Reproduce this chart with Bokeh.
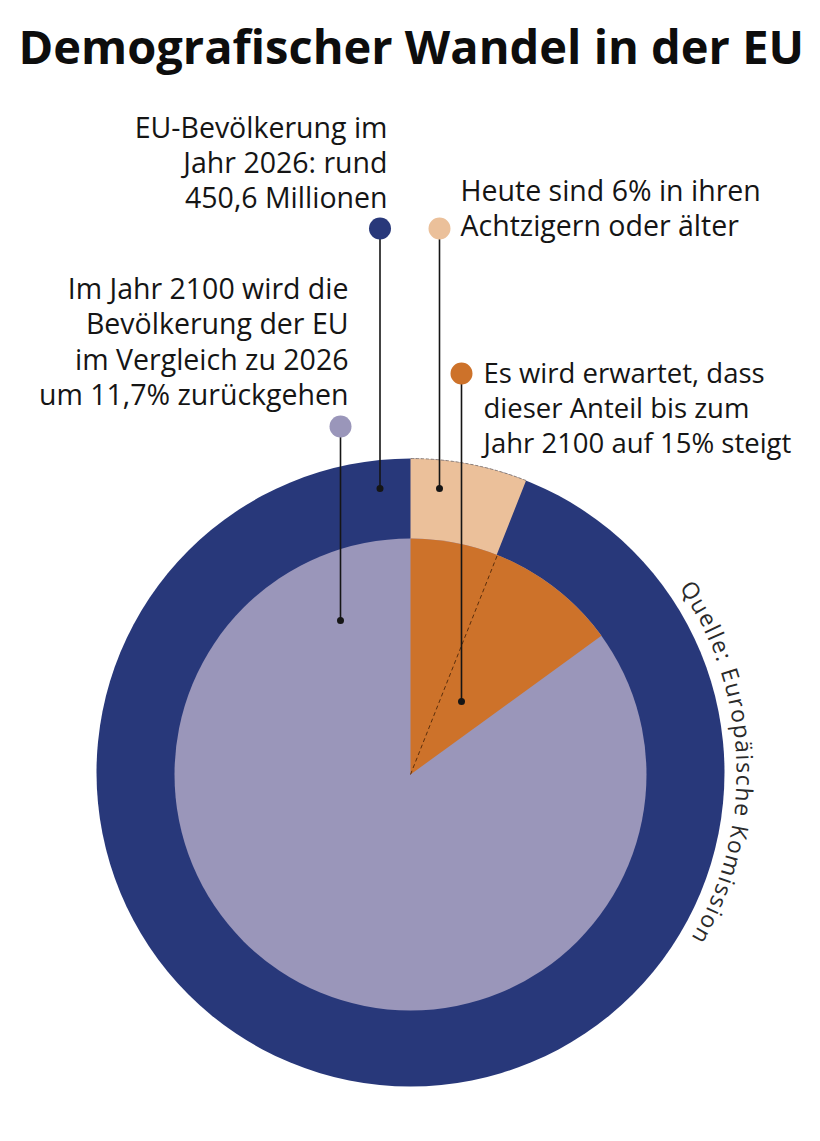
import math

from bokeh.core.properties import value
from bokeh.embed import file_html
from bokeh.models import Range1d
from bokeh.plotting import figure
from bokeh.resources import INLINE

# --- data -------------------------------------------------------------
title = "Demografischer Wandel in der EU"
source_note = "Quelle: Europäische Komission"

population_2026_mio = 450.6
decline_by_2100_pct = 11.7
share_80plus_pct = [6, 15]          # heute, im Jahr 2100

label_population = ["EU-Bevölkerung im", "Jahr 2026: rund",
                    "450,6 Millionen"]
label_today = ["Heute sind 6% in ihren", "Achtzigern oder älter"]
label_decline = ["Im Jahr 2100 wird die", "Bevölkerung der EU",
                 "im Vergleich zu 2026", "um 11,7% zurückgehen"]
label_future = ["Es wird erwartet, dass", "dieser Anteil bis zum",
                "Jahr 2100 auf 15% steigt"]

# --- style ------------------------------------------------------------
NAVY = "#28387a"
LAVENDER = "#9a96ba"
PEACH = "#ebc09a"
ORANGE = "#cd722a"
INK = "#151515"
FONT = value("Open Sans")

H = 1141


def Y(v):
    # reference pixel row -> data y (y up)
    return H - v


p = figure(width=804, height=1125, x_range=Range1d(0, 804), y_range=Range1d(16, 1141),
           output_backend="svg", toolbar_location=None, min_border=0,
           x_axis_type=None, y_axis_type=None)
p.grid.visible = False
p.outline_line_color = None
p.background_fill_color = "white"

cx = 410
cy_outer, r_outer = Y(772), 314
cy_inner, r_inner = Y(774), 236

today, future = [s / 100 * 2 * math.pi for s in share_80plus_pct]
top = math.pi / 2

# outer ring: population 2026, with share of 80+ today
p.circle(x=[cx], y=[cy_outer], radius=r_outer, fill_color=NAVY, line_color=None)
p.annular_wedge(x=[cx], y=[cy_outer], inner_radius=r_inner - 8, outer_radius=r_outer,
                start_angle=top - today, end_angle=top, fill_color=PEACH, line_color=None)
p.arc(x=[cx], y=[cy_outer], radius=r_outer, start_angle=top - today, end_angle=top,
      line_color="#8c8079", line_width=1, line_dash="3 2")

# inner pie: population 2100, with share of 80+ in 2100
p.circle(x=[cx], y=[cy_inner], radius=r_inner, fill_color=LAVENDER, line_color=None)
p.wedge(x=[cx], y=[cy_inner], radius=r_inner, start_angle=top - future, end_angle=top,
        fill_color=ORANGE, line_color=None)
p.segment(x0=[cx], y0=[cy_inner],
          x1=[cx + r_inner * math.sin(today)], y1=[cy_inner + r_inner * math.cos(today)],
          line_color="#5b2e0c", line_width=1, line_dash="4 3")

# leader lines
lx = [379.5, 439, 340, 461]
ltop = [228, 228, 426, 373]
lbot = [488, 488, 620, 701]
lcol = [NAVY, PEACH, LAVENDER, ORANGE]
p.segment(x0=lx, y0=[Y(v) for v in ltop], x1=lx, y1=[Y(v) for v in lbot],
          line_color=INK, line_width=1.6)
p.scatter(x=lx, y=[Y(v) for v in ltop], size=22, fill_color=lcol, line_color=None)
p.scatter(x=lx, y=[Y(v) for v in lbot], size=7, fill_color=INK, line_color=None)


def block(lines, x, y0, align, step=35, fs="28.5px"):
    p.text(x=[x] * len(lines), y=[Y(y0 + i * step) for i in range(len(lines))], text=lines,
           text_font=FONT, text_font_size=fs, text_color=INK,
           text_align=align, text_baseline="alphabetic")


# (rendered baseline sits ~11px below the given y)
block(label_population, 387, 126, "right", 35)
block(label_today, 460, 189, "left", 35)
block(label_decline, 348, 287, "right", 35.5)
block(label_future, 483, 372, "left", 35, "27.5px")

p.text(x=[18], y=[Y(45)], text=[title], text_font=FONT, text_font_size="47px",
       text_font_style="bold", text_color="#0d0d0d", text_align="left",
       text_baseline="alphabetic")

# source note, set along the outer ring
adv = {"Q": .78, "u": .62, "e": .56, "l": .26, ":": .27, " ": .26, "E": .56, "r": .41,
       "o": .6, "p": .61, "ä": .56, "i": .26, "s": .48, "c": .48, "h": .62, "K": .6,
       "m": .94, "n": .62}
fs = 23
w = [adv.get(c, .55) * fs for c in source_note]
r_txt = 335
th0, th1 = math.radians(55.5), math.radians(120.5)
gap = (r_txt * (th1 - th0) - sum(w)) / (len(w) - 1)
xs, ys, angs = [], [], []
pos = 0
for wi in w:
    th = th0 + (pos + wi / 2) / r_txt
    xs.append(cx + r_txt * math.sin(th))
    ys.append(cy_outer + r_txt * math.cos(th))
    angs.append(-th)
    pos += wi + gap
p.text(x=xs, y=ys, text=list(source_note), angle=angs, text_font=FONT,
       text_font_size=f"{fs}px", text_color="#2a2a2a", text_align="center",
       text_baseline="alphabetic")

open("out.html", "w").write(file_html(p, INLINE))
